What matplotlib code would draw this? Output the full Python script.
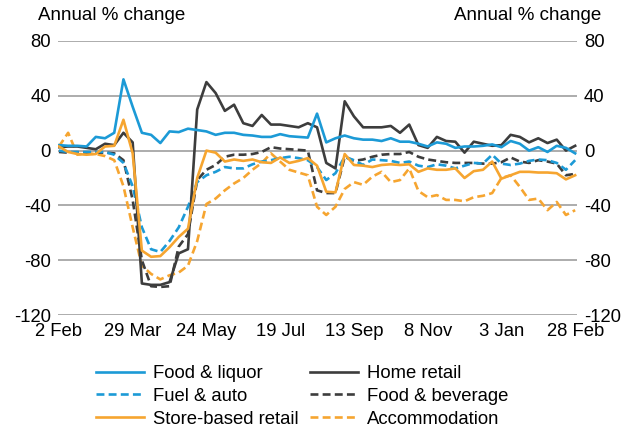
import numpy as np
import matplotlib
matplotlib.use("Agg")
import matplotlib.pyplot as plt

plt.rcParams['font.family'] = ['Liberation Sans', 'DejaVu Sans']
plt.rcParams['axes.unicode_minus'] = False

# weekly observations, 2 Feb to 28 Feb the following year
tick_labels = ['2 Feb', '29 Mar', '24 May', '19 Jul', '13 Sep', '8 Nov', '3 Jan', '28 Feb']

food_liquor = [4, 3.5, 3.5, 3, 10, 9, 13, 52, 32, 13, 11.5, 5.5, 14, 13.5, 16, 15,
               14, 11.5, 13, 13, 11.5, 11, 10, 10, 12, 10.5, 10, 9.5, 27, 6,
               9, 11, 9, 8, 8, 7, 9, 6.5, 6.5, 5, 3, 6, 5, 2, 3, 3,
               3.5, 4.5, 2.5, 7, 5, 0, 2.5, -1, 3.5, 2, -2]
home_retail = [2.5, 3, 3, 2, 1, 5, 4, 13, 6, -97, -98, -98, -96, -75, -72, 30,
               50, 42, 29, 33.5, 20, 18, 26, 19, 19, 18, 17, 20, 17, -9,
               -13, 36, 25, 17, 17, 17, 18, 13, 19, 4, 2, 10, 7, 6.5, -1.5, 6.5,
               5, 3.5, 4, 11.5, 10, 6, 9, 5.5, 8, 0, 3.5]
fuel_auto = [0, -1, -1, -1, -1, -1, -3, -9, -26, -56, -72, -74, -66, -56, -41, -23,
             -18, -15.5, -12, -13, -13, -10, -8, -7, -5.5, -4.5, -5.5, -7, -12, -21.5,
             -16.5, -4.5, -7, -10.5, -6.5, -7, -7.5, -9, -8, -11, -12, -10, -11, -13, -11, -9,
             -9.5, -3, -9.5, -10.5, -9.5, -7.5, -6.5, -7, -9, -14, -7]
food_beverage = [-1, -1.5, -1.5, -1.5, -1.5, -1.5, -2, -7, -36, -80, -99, -99.5, -99, -70, -61, -21.5,
                 -14, -10.5, -4.5, -3, -3, -2.5, -1, 2.5, 1.5, 1, 0.5, 0, -29, -31,
                 -31, -4.5, -7.5, -6.5, -4.5, -3, -2.5, -2.5, -1, -4.5, -6.5, -7.5, -8.5, -9, -9, -9,
                 -9.5, -9.5, -8.5, -5, -8, -9, -7, -8, -9.5, -18, -17]
store_based = [3, -1, -2.5, -3, -2.5, 3, 3.5, 22.5, -2, -73, -77.5, -77, -70.5, -63, -57, -20,
               0, -1.5, -8, -6.5, -7.5, -6.5, -8.5, -9, -5, -9, -7.5, -5.5, -11, -30,
               -30.5, -2.5, -10.5, -11, -12, -10.5, -10, -10.5, -10, -15.5, -13, -14, -14, -13, -20, -15,
               -14, -8, -20.5, -18, -15.5, -15.5, -16, -16, -16.5, -21, -18]
accommodation = [3, 13, -3, -2, -2.5, -4, -7, -26, -56, -84, -90, -94, -91, -89, -84, -66,
                 -39, -35, -29, -24, -20, -14, -9, -2, -8, -14, -16, -18, -41, -47,
                 -41, -28, -23, -25, -19, -15.5, -23, -21.5, -13, -29.5, -34, -32.5, -36, -36, -37, -34,
                 -33, -31, -20, -18, -26.5, -36, -35, -43.5, -37.5, -47, -43.5]

weeks = np.arange(len(food_liquor))

blue = '#1c9ad6'
dark = '#3d3d3d'
orange = '#f6a530'
dash = (0, (3, 1.6))
lw = 1.9

fig = plt.figure(figsize=(6.34, 4.30), dpi=100)
ax = fig.add_axes([58 / 634, 1 - 315 / 430, (577 - 58) / 634, (315 - 41) / 430])

# grid
for v in range(-120, 81, 40):
    ax.axhline(v, color='#a6a6a6', lw=1.3, zorder=1)

l_ac, = ax.plot(weeks, accommodation, color=orange, lw=lw, ls=dash, label='Accommodation', zorder=3)
l_fb, = ax.plot(weeks, food_beverage, color=dark, lw=lw, ls=dash, label='Food & beverage', zorder=3)
l_fa, = ax.plot(weeks, fuel_auto, color=blue, lw=lw, ls=dash, label='Fuel & auto', zorder=3)
l_hr, = ax.plot(weeks, home_retail, color=dark, lw=lw, label='Home retail', zorder=4)
l_fl, = ax.plot(weeks, food_liquor, color=blue, lw=lw, label='Food & liquor', zorder=4)
l_sb, = ax.plot(weeks, store_based, color=orange, lw=lw, label='Store-based retail', zorder=5)

ax.set_xlim(-0.1, 56.2)
ax.set_ylim(-120, 80)
ax.set_xticks(np.arange(0, 57, 8))
ax.set_xticklabels(tick_labels)
ax.set_yticks(range(-120, 81, 40))
ax.tick_params(axis='both', length=0, labelsize=13.3, colors='black')
ax.tick_params(axis='y', pad=5, labelright=True)
ax.tick_params(axis='x', pad=6)
for s in ax.spines.values():
    s.set_visible(False)

fig.text(38 / 634, 1 - 16 / 430, 'Annual % change', fontsize=13.5, ha='left', va='center')
fig.text(601 / 634, 1 - 16 / 430, 'Annual % change', fontsize=13.5, ha='right', va='center')

fig.legend([l_fl, l_fa, l_sb, l_hr, l_fb, l_ac],
           ['Food & liquor', 'Fuel & auto', 'Store-based retail',
            'Home retail', 'Food & beverage', 'Accommodation'],
           ncol=2, frameon=False, fontsize=13.3, loc='upper left',
           bbox_to_anchor=(96 / 634, 1 - 365 / 430), borderaxespad=0, borderpad=0,
           handlelength=2.6, handletextpad=0.5, columnspacing=0.6, labelspacing=0.32)

fig.savefig('out.png', dpi=100)
